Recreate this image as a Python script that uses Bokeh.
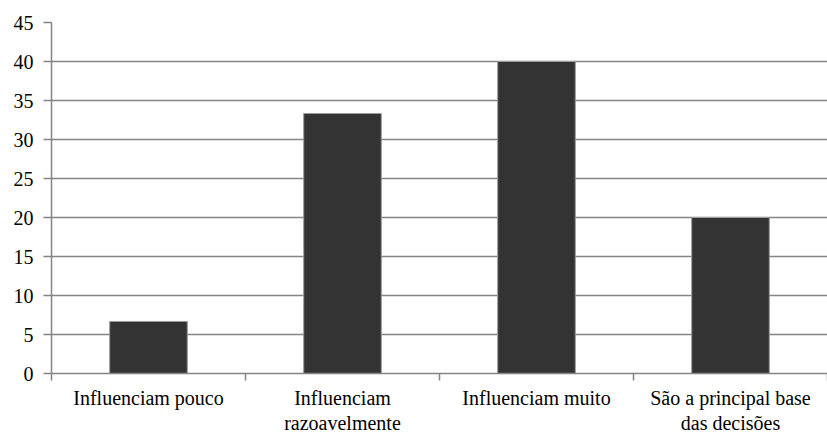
from bokeh.plotting import figure
from bokeh.models import Range1d, FixedTicker, LinearAxis
from bokeh.embed import file_html
from bokeh.resources import INLINE

categories = ["Influenciam pouco", "Influenciam\nrazoavelmente", "Influenciam muito", "São a principal base\ndas decisões"]
values = [6.67, 33.33, 40.0, 20.0]
y_ticks = [0, 5, 10, 15, 20, 25, 30, 35, 40, 45]

centers = [i + 0.5 for i in range(len(categories))]
bounds = list(range(len(categories) + 1))

p = figure(width=827, height=436, output_backend="svg", toolbar_location=None,
           x_range=Range1d(0, len(categories)), y_range=Range1d(0, 45),
           min_border_left=51, min_border_right=0, min_border_top=22, min_border_bottom=63)
p.outline_line_color = None

p.vbar(x=centers, top=values, width=0.4, bottom=0, fill_color="#333333", line_color="#9a9a9a", line_width=1)

FONT = "Liberation Serif"
gray = "#858585"

p.xgrid.grid_line_color = None
p.ygrid.ticker = FixedTicker(ticks=y_ticks)
p.ygrid.grid_line_color = gray
p.ygrid.grid_line_width = 1.5

yax = p.yaxis[0]
xax = p.xaxis[0]

yax.ticker = FixedTicker(ticks=y_ticks, minor_ticks=[])
yax.axis_line_color = gray
yax.axis_line_width = 1.5
yax.major_tick_line_color = gray
yax.major_tick_line_width = 1.5
yax.major_tick_out = 8
yax.major_tick_in = 0
yax.minor_tick_line_color = None
yax.major_label_text_font = FONT
yax.major_label_text_font_size = "20px"
yax.major_label_text_color = "#000000"
yax.major_label_standoff = 10

first_lines = [c.split("\n")[0] for c in categories]
second_lines = [c.split("\n")[1] if "\n" in c else "" for c in categories]

xax.ticker = FixedTicker(ticks=centers, minor_ticks=bounds)
xax.major_label_overrides = {c: lab for c, lab in zip(centers, first_lines)}
xax.axis_line_color = gray
xax.axis_line_width = 1.5
xax.major_tick_line_color = None
xax.major_tick_out = 0
xax.major_tick_in = 0
xax.minor_tick_line_color = gray
xax.minor_tick_line_width = 1.5
xax.minor_tick_out = 7
xax.minor_tick_in = 0
xax.major_label_text_font = FONT
xax.major_label_text_font_size = "20px"
xax.major_label_text_color = "#000000"
xax.major_label_standoff = 6

# second line of the two-line category labels, as a bare axis below the first
xax2 = LinearAxis(ticker=FixedTicker(ticks=centers, minor_ticks=[]),
                  major_label_overrides={c: lab for c, lab in zip(centers, second_lines)})
xax2.axis_line_color = None
xax2.major_tick_line_color = None
xax2.minor_tick_line_color = None
xax2.major_tick_out = 0
xax2.major_tick_in = 0
xax2.minor_tick_out = 0
xax2.minor_tick_in = 0
xax2.major_label_text_font = FONT
xax2.major_label_text_font_size = "20px"
xax2.major_label_text_color = "#000000"
xax2.major_label_standoff = 0
p.add_layout(xax2, "below")

open("out.html", "w").write(file_html(p, INLINE))
